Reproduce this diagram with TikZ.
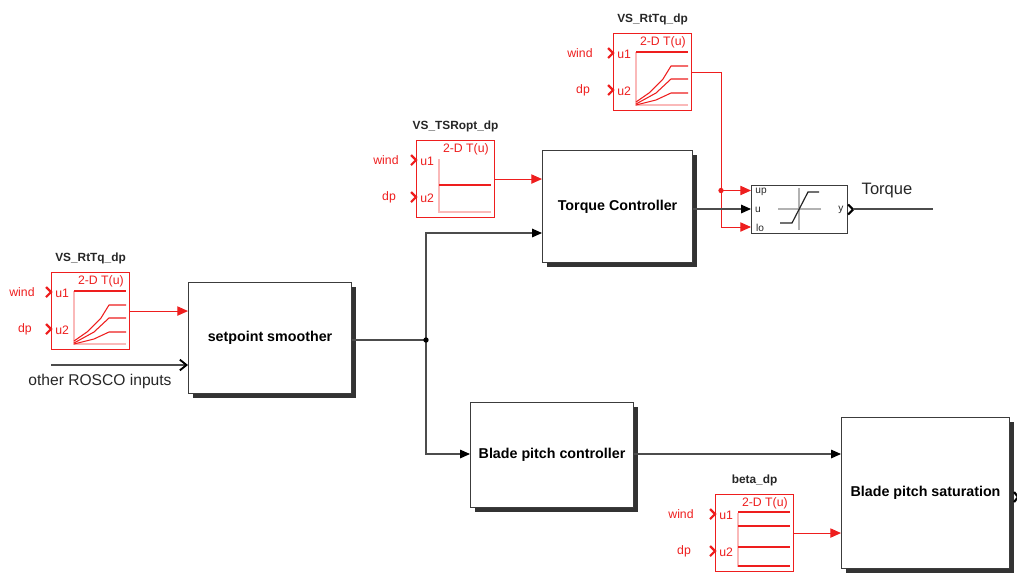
\documentclass[tikz,border=0pt]{standalone}
\usepackage{fontspec}
\setmainfont{Liberation Sans}
\usetikzlibrary{positioning,arrows.meta,shadows}

\definecolor{lutred}{RGB}{238,30,30}
\definecolor{lutpink}{RGB}{250,185,185}
\definecolor{wiregray}{RGB}{60,60,60}

\tikzset{
    block/.style={draw=wiregray, fill=white, line width=.8pt, anchor=north west, inner sep=0pt,
        font=\fontsize{10.7pt}{12pt}\selectfont\bfseries,
        drop shadow={shadow xshift=3pt, shadow yshift=-3pt, fill=black!80, opacity=1}},
    lutbox/.style={draw=lutred, fill=white, line width=.8pt, anchor=north west, inner sep=0pt,
        minimum width=58.5pt, minimum height=57.75pt},
    luttitle/.style={font=\fontsize{8.9pt}{10pt}\selectfont\bfseries, text=black!85, inner sep=0pt},
    luttext/.style={font=\fontsize{9.2pt}{11pt}\selectfont, text=lutred, inner sep=0pt},
    portmark/.style={line width=1.6pt, line join=miter},
    satext/.style={font=\fontsize{7.6pt}{9pt}\selectfont, text=black!85, inner sep=0pt},
    redwire/.style={draw=lutred, line width=.7pt},
    blackwire/.style={draw=black!70, line width=.8pt},
    tipred/.style={-{Triangle[length=8pt,width=7pt]}},
    tipblack/.style={-{Triangle[length=7.5pt,width=6.5pt,color=black]}},
    jointdot/.style={circle, fill=#1, inner sep=0pt, minimum size=4pt}
}

\begin{document}
\begin{tikzpicture}[x=.75pt, y=-.75pt]
    \useasboundingbox (0,0) rectangle (1017,572);

    % main blocks
    \node[block, minimum width=122.25pt, minimum height=83.25pt] (smoother) at (188,282) {setpoint smoother};
    \node[block, minimum width=112.5pt, minimum height=84pt] (torquectrl) at (542,150) {Torque Controller};
    \node[block, minimum width=122.25pt, minimum height=78.75pt] (bladectrl) at (470,402) {Blade pitch controller};
    \node[block, minimum width=126pt, minimum height=113.25pt] (bladesat) at (841,417) {Blade pitch saturation};
    \node[draw=wiregray, fill=white, line width=.8pt, anchor=north west, inner sep=0pt,
        minimum width=72pt, minimum height=36pt] (limiter) at (751,185) {};

    % lookup tables
    \foreach \name/\xpos/\ypos/\windx/\titletext in {
        toplut/613/33/-33/VS\_RtTq\_dp,
        leftlut/51/272/-29/VS\_RtTq\_dp,
        tsrlut/416/140/-30/VS\_TSRopt\_dp,
        betalut/715/494/-34/beta\_dp} {
        \node[lutbox] (\name) at (\xpos,\ypos) {};
        \node[luttitle, above=5.5pt of \name.north] (\name-title) {\titletext};
        \begin{scope}[shift={(\name.north west)}]
            \node[luttext, anchor=east] (\name-table) at (73,9.5) {2-D T(u)};
            \node[luttext, anchor=west] (\name-uone) at (4,21) {u1};
            \node[luttext, anchor=west] (\name-utwo) at (4,58) {u2};
            \node[luttext] (\name-wind) at (\windx,20.5) {wind};
            \node[luttext] (\name-dp) at (\windx+3,57.5) {dp};
            \draw[lutred, portmark] (-5,15) -- (0,20) -- (-5,25);
            \draw[lutred, portmark] (-5,52) -- (0,57) -- (-5,62);
            \draw[lutpink, line width=.8pt] (23,19) -- (23,72) -- (75,72);
        \end{scope}
    }

    % curves inside the tables
    \foreach \name in {toplut,leftlut} {
        \begin{scope}[shift={(\name.north west)}, lutred, line width=.8pt, line join=round]
            \draw[line width=1pt] (23,19) -- (75,19);
            \draw (23,69) -- (36,60) -- (50,46) -- (58,33) -- (75,33);
            \draw (23,71) -- (43,60) -- (58,46) -- (75,46);
            \draw (23,72) -- (43,67) -- (58,60) -- (75,60);
        \end{scope}
    }
    \begin{scope}[shift={(tsrlut.north west)}, lutred, line width=1pt]
        \draw (23,45) -- (75,45);
    \end{scope}
    \begin{scope}[shift={(betalut.north west)}, lutred, line width=.9pt]
        \draw (23,18) -- (75,18);
        \draw (23,32) -- (75,32);
        \draw (23,53) -- (75,53);
        \draw (23,72) -- (75,72);
    \end{scope}

    % saturation block
    \begin{scope}[shift={(limiter.north west)}]
        \node[satext] (limiter-up) at (10,7) {up};
        \node[satext] (limiter-u) at (7,25) {u};
        \node[satext] (limiter-lo) at (9,43) {lo};
        \node[satext] (limiter-y) at (90,25) {y};
        \draw[black!30, line width=.8pt] (27,24) -- (70,24);
        \draw[black!30, line width=.8pt] (48,3) -- (48,45);
        \draw[black!85, line width=.9pt] (29,38) -- (41,38) -- (57,7) -- (68,7);
    \end{scope}
    \draw[black, portmark] (limiter.east) ++(0,-5) -- ++(5,5) -- ++(-5,5);
    \draw[black, portmark] (bladesat.east) ++(4,-1) -- ++(4,5) -- ++(-4,5);

    % texts
    \node[font=\fontsize{11.7pt}{13pt}\selectfont, text=black!85, inner sep=0pt] (otherinputs) at (100,381) {other ROSCO inputs};
    \node[font=\fontsize{12.4pt}{14pt}\selectfont, text=black!85, inner sep=0pt] (torquetext) at (887,191) {Torque};

    % helper points
    \coordinate (branch) at (426,340);
    \coordinate (redjoint) at (721,190.5);
    \coordinate (upin) at (751,190.5);
    \coordinate (uin) at (751,209);
    \coordinate (loin) at (751,227);
    \coordinate (torqueout) at (933,209);
    \coordinate (otherstart) at (51,365);

    % red wires
    \draw[redwire, tipred] (leftlut.east) -- (smoother.west |- leftlut.east);
    \draw[redwire, tipred] (tsrlut.east) -- (torquectrl.west |- tsrlut.east);
    \draw[redwire, tipred] (betalut.east) -- (bladesat.west |- betalut.east);
    \draw[redwire, tipred] (toplut.east) -| (loin -| redjoint) -- (loin);
    \draw[redwire, tipred] (redjoint) -- (upin);
    \node[jointdot=lutred] (redjointdot) at (redjoint) {};

    % black wires
    \draw[blackwire, -{Straight Barb[length=5pt,width=8pt,line width=1.4pt,color=black]}, line width=1.1pt] (otherstart) -- (smoother.west |- otherstart);
    \draw[blackwire] (smoother.east |- branch) -- (branch);
    \draw[blackwire, tipblack] (branch) |- (torquectrl.west |- 0,233);
    \draw[blackwire, tipblack] (branch) |- (bladectrl.west |- 0,454);
    \draw[blackwire, tipblack] (bladectrl.east |- 0,454) -- (bladesat.west |- 0,454);
    \draw[blackwire, tipblack] (torquectrl.east |- uin) -- (uin);
    \draw[blackwire, line width=1.1pt] (limiter.east |- uin) ++(5,0) -- (torqueout);
    \node[jointdot=black] (branchdot) at (branch) {};
\end{tikzpicture}
\end{document}
